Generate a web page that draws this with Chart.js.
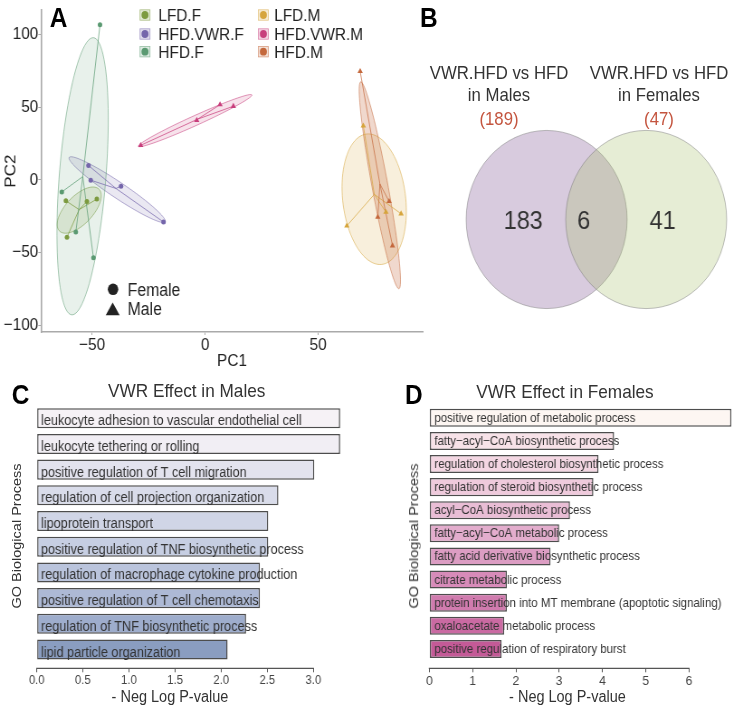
<!DOCTYPE html>
<html>
<head>
<meta charset="utf-8">
<script src="https://cdn.jsdelivr.net/npm/chart.js@4.4.1/dist/chart.umd.min.js"></script>
<style>
html, body { margin: 0; padding: 0; background: #fff; overflow: hidden; }
#page { position: absolute; left: 0; top: 0; width: 820px; height: 709px;
        transform: scaleX(0.905); transform-origin: 0 0;
        font-family: "Liberation Sans", Arial, Helvetica, sans-serif; color: #333; }
canvas { position: absolute; }
.t { position: absolute; line-height: 1; white-space: nowrap; }
.c { transform: translateX(-50%); }
.lab { font-weight: bold; font-size: 27px; color: #000; }
.rot { transform: translate(-50%, -50%) rotate(-90deg); }
</style>
</head>
<body>
<div id="page">
  <canvas id="chartA" width="480" height="372" style="left:0;top:0"></canvas>
  <canvas id="chartB" width="322" height="215" style="left:498.4px;top:112px"></canvas>
  <canvas id="chartC" width="400" height="329" style="left:0;top:380px"></canvas>
  <canvas id="chartD" width="400" height="329" style="left:420px;top:380px"></canvas>

  <div class="t lab" style="left:55px;top:4.5px">A</div>
  <div class="t lab" style="left:464px;top:4.5px">B</div>
  <div class="t lab" style="left:13px;top:381.5px">C</div>
  <div class="t lab" style="left:447.5px;top:381.5px">D</div>

  <div id="vennText"></div>

  <div class="t c" style="left:206.3px;top:380.7px;font-size:19px">VWR Effect in Males</div>
  <div class="t c" style="left:624.3px;top:382.4px;font-size:19px">VWR Effect in Females</div>
  <div class="t c" style="left:187.8px;top:689.2px;font-size:16px">- Neg Log P-value</div>
  <div class="t c" style="left:627px;top:689.2px;font-size:16px">- Neg Log P-value</div>
  <div class="t rot" style="left:18px;top:536px;font-size:14.5px">GO Biological Process</div>
  <div class="t rot" style="left:457.2px;top:536px;font-size:14.5px">GO Biological Process</div>
</div>

<script>
Chart.defaults.font.family = '"Liberation Sans", Arial, Helvetica, sans-serif';

// ---- A: PCA ----
const groupNames = ['LFD.F', 'HFD.VWR.F', 'HFD.F', 'LFD.M', 'HFD.VWR.M', 'HFD.M'];
const groupSex = ['F', 'F', 'F', 'M', 'M', 'M'];
const pc1 = [
   [-61.6, -52.3, -47.9, -61.1],
   [-51.6, -50.6, -37.2, -18.4],
   [-46.5, -63.4, -57.2, -49.4],
   [70.0, 80.0, 86.7, 62.7],
   [-28.5, -3.7, 6.6, 12.5],
   [68.6, 81.4, 76.4, 82.9]
];
const pc2 = [
   [-14.4, -14.8, -13.2, -39.4],
   [9.9, -0.2, -4.3, -29.0],
   [106.8, -8.3, -35.9, -53.6],
   [37.2, -22.2, -23.3, -31.6],
   [23.8, 41.0, 51.8, 50.7],
   [74.7, -14.8, -25.6, -45.3]
];
// ellipse centre and two semi-axes, in PC units
const ellipseCenter = [[-55.7, -20.8], [-38.9, -6.7], [-54.2, 2.5], [74.8, -13.3], [-4.4, 40.8], [77.3, -3.7]];
const ellipseMajor = [[8.6, 14.6], [21.2, -22.2], [4.78, 95.4], [-3.3, 44.9], [25.1, 17.7], [-8.45, 71.2]];
const ellipseMinor = [[4.6, -6.3], [-2.0, -4.4], [10.3, -1.19], [13.85, 2.3], [0.93, -3.03], [3.48, 0.96]];
const pcTicks = [-100, -50, 0, 50, 100];
const groupColors = ['#7c9a3f', '#7566ab', '#5b9a72', '#d6a53c', '#c83e7c', '#c4683c'];
const ellipseAlpha = [0.17, 0.15, 0.14, 0.18, 0.15, 0.26];

// ---- B: Venn ----
const vennSets = ['VWR.HFD vs HFD', 'VWR.HFD vs HFD'];
const vennSubtitles = ['in Males', 'in Females'];
const vennTotals = [189, 47];
const vennCounts = [183, 6, 41];

// ---- C / D: GO terms ----
const maleTerms = [
   'leukocyte adhesion to vascular endothelial cell',
   'leukocyte tethering or rolling',
   'positive regulation of T cell migration',
   'regulation of cell projection organization',
   'lipoprotein transport',
   'positive regulation of TNF biosynthetic process',
   'regulation of macrophage cytokine production',
   'positive regulation of T cell chemotaxis',
   'regulation of TNF biosynthetic process',
   'lipid particle organization'
];
const maleValues = [3.29, 3.29, 3.01, 2.62, 2.51, 2.51, 2.42, 2.42, 2.27, 2.07];
const femaleTerms = [
   'positive regulation of metabolic process',
   'fatty\u2212acyl\u2212CoA biosynthetic process',
   'regulation of cholesterol biosynthetic process',
   'regulation of steroid biosynthetic process',
   'acyl\u2212CoA biosynthetic process',
   'fatty\u2212acyl\u2212CoA metabolic process',
   'fatty acid derivative biosynthetic process',
   'citrate metabolic process',
   'protein insertion into MT membrane (apoptotic signaling)',
   'oxaloacetate metabolic process',
   'positive regulation of respiratory burst'
];
const femaleValues = [6.98, 4.27, 3.91, 3.79, 3.25, 3.0, 2.80, 1.79, 1.79, 1.73, 1.67];
const maleColors = ['#f6f2f6', '#f1eef4', '#e3e3ee', '#d9dcea', '#d0d5e6', '#c6cee2', '#bac4dc', '#adb9d5', '#9eadcc', '#8a9dc0'];
const femaleColors = ['#fdf6f2', '#f7e2e8', '#f3d6e2', '#efcadc', '#e9bdd5', '#e3adcd', '#dc9dc3', '#d78bb9', '#d07bae', '#ca6aa2', '#c45a97'];

function rgba(hex, a) {
   var n = parseInt(hex.slice(1), 16);
   return 'rgba(' + (n >> 16) + ',' + ((n >> 8) & 255) + ',' + (n & 255) + ',' + a + ')';
}
function mean(arr) {
   return arr.reduce(function(s, v) { return s + v; }, 0) / arr.length;
}

const pcaPlugin = {
   id: 'pcaDecor',
   beforeDatasetsDraw(chart) {
      const ctx = chart.ctx, a = chart.chartArea, xs = chart.scales.x, ys = chart.scales.y;
      ctx.save();
      ctx.beginPath();
      ctx.rect(a.left, a.top, a.right - a.left, a.bottom - a.top);
      ctx.clip();
      groupNames.forEach(function(g, gi) {
         const c = ellipseCenter[gi], m = ellipseMajor[gi], n = ellipseMinor[gi];
         ctx.beginPath();
         for (let k = 0; k <= 90; k++) {
            const t = k / 90 * Math.PI * 2;
            const px = xs.getPixelForValue(c[0] + m[0] * Math.cos(t) + n[0] * Math.sin(t));
            const py = ys.getPixelForValue(c[1] + m[1] * Math.cos(t) + n[1] * Math.sin(t));
            if (k === 0) ctx.moveTo(px, py); else ctx.lineTo(px, py);
         }
         ctx.closePath();
         ctx.fillStyle = rgba(groupColors[gi], ellipseAlpha[gi]);
         ctx.fill();
         ctx.strokeStyle = rgba(groupColors[gi], 0.6);
         ctx.lineWidth = 0.9;
         ctx.stroke();
      });
      // spider lines to the group centroid
      groupNames.forEach(function(g, gi) {
         const cx = xs.getPixelForValue(mean(pc1[gi])), cy = ys.getPixelForValue(mean(pc2[gi]));
         ctx.strokeStyle = rgba(groupColors[gi], 0.8);
         ctx.lineWidth = 0.9;
         ctx.beginPath();
         pc1[gi].forEach(function(v, i) {
            ctx.moveTo(cx, cy);
            ctx.lineTo(xs.getPixelForValue(v), ys.getPixelForValue(pc2[gi][i]));
         });
         ctx.stroke();
      });
      ctx.restore();
   },
   afterDraw(chart) {
      const ctx = chart.ctx;
      ctx.save();
      ctx.font = '17px "Liberation Sans", Arial, sans-serif';
      ctx.fillStyle = '#222';
      ctx.textBaseline = 'alphabetic';
      const colKey = [160.2, 291], colText = [175, 303], rowY = [15, 34, 51.7];
      groupNames.forEach(function(g, gi) {
         const col = Math.floor(gi / 3), row = gi % 3;
         const kx = colKey[col], ky = rowY[row];
         ctx.fillStyle = rgba(groupColors[gi], 0.2);
         ctx.fillRect(kx - 5.5, ky - 5.2, 11, 10.4);
         ctx.strokeStyle = rgba(groupColors[gi], 0.6);
         ctx.lineWidth = 0.8;
         ctx.strokeRect(kx - 5.5, ky - 5.2, 11, 10.4);
         ctx.fillStyle = groupColors[gi];
         ctx.beginPath();
         ctx.arc(kx, ky, 3.9, 0, Math.PI * 2);
         ctx.fill();
         ctx.fillStyle = '#222';
         ctx.fillText(g, colText[col], ky + 6.1);
      });
      // shape legend
      ctx.fillStyle = '#222';
      ctx.beginPath();
      ctx.arc(124.9, 289.3, 5.8, 0, Math.PI * 2);
      ctx.fill();
      ctx.beginPath();
      ctx.moveTo(124.5, 302.5);
      ctx.lineTo(116.8, 315.3);
      ctx.lineTo(132.2, 315.3);
      ctx.closePath();
      ctx.fill();
      ctx.font = '17.5px "Liberation Sans", Arial, sans-serif';
      ctx.fillText('Female', 141, 290 + 6.3);
      ctx.fillText('Male', 141, 308.7 + 6.3);
      ctx.restore();
   }
};

new Chart(document.getElementById('chartA'), {
   type: 'scatter',
   data: {
      datasets: groupNames.map(function(g, gi) {
         return {
            label: g,
            data: pc1[gi].map(function(v, i) { return { x: v, y: pc2[gi][i] }; }),
            pointStyle: groupSex[gi] === 'F' ? 'circle' : 'triangle',
            pointRadius: groupSex[gi] === 'F' ? 2.5 : 3.4,
            backgroundColor: groupColors[gi],
            borderColor: groupColors[gi],
            borderWidth: 0
         };
      })
   },
   options: {
      responsive: false,
      animation: false,
      events: [],
      layout: { padding: { left: 0, top: 3, right: 12.6, bottom: 0 } },
      plugins: { legend: { display: false }, tooltip: { enabled: false } },
      scales: {
         x: {
            type: 'linear', min: -72.6, max: 96.4, bounds: 'data',
            afterFit: function(s) { s.height = 40; },
            afterBuildTicks: function(s) { s.ticks = pcTicks.filter(function(v) { return v >= s.min && v <= s.max; }).map(function(v) { return { value: v }; }); },
            ticks: { font: { size: 17, lineHeight: 1 }, color: '#222', padding: 2,
                     callback: function(v) { return v < 0 ? '\u2212' + Math.abs(v) : '' + v; } },
            grid: { drawOnChartArea: false, tickLength: 3, color: '#aaa' },
            border: { color: '#aaa', width: 1.6 },
            title: { display: true, text: 'PC1', font: { size: 17 }, color: '#222', padding: { top: 0, bottom: 0 } }
         },
         y: {
            type: 'linear', min: -104.7, max: 116.8, bounds: 'data',
            afterFit: function(s) { s.width = 45.3; },
            afterBuildTicks: function(s) { s.ticks = pcTicks.filter(function(v) { return v >= s.min && v <= s.max; }).map(function(v) { return { value: v }; }); },
            ticks: { font: { size: 17 }, color: '#222', padding: 0,
                     callback: function(v) { return v < 0 ? '\u2212' + Math.abs(v) : '' + v; } },
            grid: { drawOnChartArea: false, tickLength: 3, color: '#aaa' },
            border: { color: '#aaa', width: 1.6 },
            title: { display: true, text: 'PC2', font: { size: 17 }, color: '#222', padding: { top: 2, bottom: 0 } }
         }
      }
   },
   plugins: [pcaPlugin]
});

// ---- B ----
const vennCenterX = [-0.615, 0.615];
const vennCountX = [-0.904, -0.158, 0.818];
const vennFill = ['rgb(216,203,222)', 'rgba(166,191,105,0.28)'];

const vennPlugin = {
   id: 'venn',
   beforeDatasetsDraw(chart) {
      const ctx = chart.ctx, xs = chart.scales.x, ys = chart.scales.y;
      const rx = xs.getPixelForValue(1) - xs.getPixelForValue(0);
      const ry = ys.getPixelForValue(0) - ys.getPixelForValue(1);
      ctx.save();
      vennCenterX.forEach(function(cx, i) {
         ctx.beginPath();
         ctx.ellipse(xs.getPixelForValue(cx), ys.getPixelForValue(0), rx - 0.5, ry - 0.5, 0, 0, Math.PI * 2);
         ctx.fillStyle = vennFill[i];
         ctx.fill();
         ctx.strokeStyle = 'rgba(110,110,110,0.45)';
         ctx.lineWidth = 1;
         ctx.stroke();
      });
      ctx.font = '26px "Liberation Sans", Arial, sans-serif';
      ctx.fillStyle = '#333';
      ctx.textAlign = 'center';
      vennCounts.forEach(function(n, i) {
         ctx.fillText(String(n), xs.getPixelForValue(vennCountX[i]), ys.getPixelForValue(0) + 9.8);
      });
      ctx.restore();
   }
};

new Chart(document.getElementById('chartB'), {
   type: 'scatter',
   data: { datasets: [{ data: vennCenterX.map(function(x) { return { x: x, y: 0 }; }), pointRadius: 0 }] },
   options: {
      responsive: false,
      animation: false,
      events: [],
      layout: { padding: 0 },
      plugins: { legend: { display: false }, tooltip: { enabled: false } },
      scales: {
         x: { type: 'linear', display: false, min: -1.8, max: 1.8 },
         y: { type: 'linear', display: false, min: -1.2, max: 1.2 }
      }
   },
   plugins: [vennPlugin]
});

var vennHTML = '';
var vennTextX = [551.4, 728.2];
vennSets.forEach(function(s, i) {
   vennHTML += '<div class="t c" style="left:' + vennTextX[i] + 'px;top:63.5px;font-size:18.5px">' + s + '</div>';
   vennHTML += '<div class="t c" style="left:' + vennTextX[i] + 'px;top:86.2px;font-size:18.5px">' + vennSubtitles[i] + '</div>';
   vennHTML += '<div class="t c" style="left:' + vennTextX[i] + 'px;top:110px;font-size:18.5px;color:#c4553f">(' + vennTotals[i] + ')</div>';
});
document.getElementById('vennText').innerHTML = vennHTML;

// ---- C / D ----
const barLabelPlugin = {
   id: 'barLabels',
   afterDatasetsDraw(chart, args, opts) {
      const ctx = chart.ctx, xs = chart.scales.x;
      const meta = chart.getDatasetMeta(0);
      const x0 = xs.getPixelForValue(0);
      ctx.save();
      ctx.font = opts.size + 'px "Liberation Sans", Arial, sans-serif';
      ctx.fillStyle = '#333';
      ctx.textBaseline = 'alphabetic';
      meta.data.forEach(function(bar, i) {
         ctx.fillText(opts.labels[i], x0 + opts.dx, bar.y + opts.dy);
      });
      // axis line only as far as the last tick
      const last = xs.ticks[xs.ticks.length - 1].value;
      ctx.strokeStyle = '#555';
      ctx.lineWidth = 1.3;
      ctx.beginPath();
      ctx.moveTo(x0 - 0.6, chart.chartArea.bottom);
      ctx.lineTo(xs.getPixelForValue(last) + 0.6, chart.chartArea.bottom);
      ctx.stroke();
      ctx.restore();
   }
};

function goChart(id, terms, values, colors, conf) {
   return new Chart(document.getElementById(id), {
      type: 'bar',
      data: {
         datasets: [{
            data: values.map(function(v, i) { return { x: v, y: i }; }),
            backgroundColor: colors,
            borderColor: '#4d4d4d',
            borderWidth: 1.5,
            borderSkipped: false,
            categoryPercentage: 1,
            barPercentage: 0.78
         }]
      },
      options: {
         indexAxis: 'y',
         responsive: false,
         animation: false,
         events: [],
         layout: { padding: conf.padding },
         plugins: {
            legend: { display: false },
            tooltip: { enabled: false },
            barLabels: { labels: terms, size: conf.labelSize, dx: conf.dx, dy: conf.dy }
         },
         scales: {
            y: { type: 'linear', display: false, offset: false, reverse: true, min: -0.5, max: conf.yMax, bounds: 'data' },
            x: {
               type: 'linear', min: 0, max: conf.xMax, bounds: 'data',
               afterFit: function(s) { s.height = 40.7; },
               afterBuildTicks: function(s) { s.ticks = s.ticks.filter(function(t) { return t.value <= conf.lastTick + 1e-6; }); },
               ticks: { stepSize: conf.step, includeBounds: false, font: { size: conf.tickSize, lineHeight: 1 }, color: '#444', padding: 2,
                        callback: conf.fmt },
               grid: { drawOnChartArea: false, tickLength: 4, color: '#555', lineWidth: 1 },
               border: { display: false }
            }
         }
      },
      plugins: [barLabelPlugin]
   });
}

goChart('chartC', maleTerms, maleValues, maleColors, {
   padding: { left: 40.6, right: 21.1, top: 25.4, bottom: 0 },
   yMax: 9.73, xMax: 3.32, lastTick: 3, step: 0.5, tickSize: 12.5,
   fmt: function(v) { return v.toFixed(1); },
   labelSize: 14, dx: 4.7, dy: 7
});
goChart('chartD', femaleTerms, femaleValues, femaleColors, {
   padding: { left: 54.4, right: 8.5, top: 26.25, bottom: 0 },
   yMax: 10.84, xMax: 7.05, lastTick: 6, step: 1, tickSize: 13.5,
   fmt: function(v) { return '' + v; },
   labelSize: 12.7, dx: 5.5, dy: 4
});
</script>
</body>
</html>
